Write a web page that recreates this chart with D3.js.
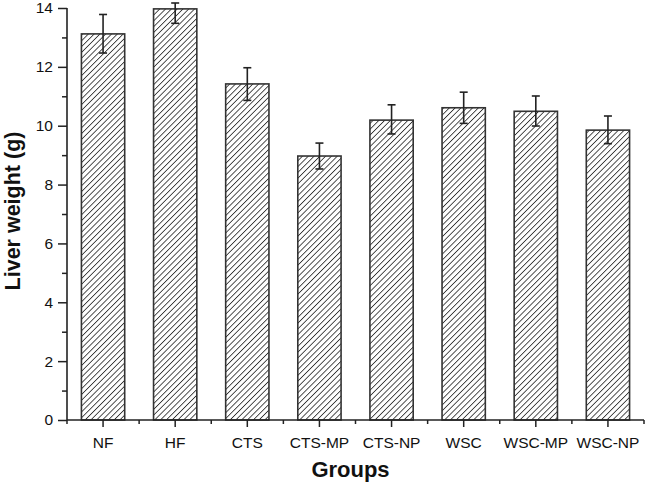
<!DOCTYPE html>
<html>
<head>
<meta charset="utf-8">
<script src="https://cdn.jsdelivr.net/npm/d3@7"></script>
<style>
  html, body { margin: 0; padding: 0; background: #fff; }
  svg { display: block; }
  text { font-family: "Liberation Sans", Arial, sans-serif; fill: #111; }
</style>
</head>
<body>
<svg id="chart" width="645" height="482"></svg>
<script>
const categories = ["NF", "HF", "CTS", "CTS-MP", "CTS-NP", "WSC", "WSC-MP", "WSC-NP"];
const values     = [13.12, 13.97, 11.42, 8.97, 10.19, 10.61, 10.49, 9.85];
const errUpper   = [0.66, 0.20, 0.55, 0.44, 0.52, 0.53, 0.52, 0.48];
const errLower   = [0.65, 0.49, 0.56, 0.44, 0.47, 0.53, 0.50, 0.46];
const yTicks     = [0, 2, 4, 6, 8, 10, 12, 14];
const yMinorTicks = [1, 3, 5, 7, 9, 11, 13];

(function () {
const svg = d3.select("#chart");
const mLeft = 67, mRight = 644, mTop = 8, mBottom = 420;

const x = d3.scaleBand().domain(categories).range([mLeft, mRight]).paddingInner(0.4).paddingOuter(0.2);
const y = d3.scaleLinear().domain([0, 14]).range([mBottom, mTop]);

// hatch pattern
const hs = 4.1;
const defs = svg.append("defs");
const pat = defs.append("pattern")
  .attr("id", "hatch").attr("patternUnits", "userSpaceOnUse")
  .attr("width", hs).attr("height", hs)
  .attr("patternTransform", "rotate(45)");
pat.append("rect").attr("width", hs).attr("height", hs).attr("fill", "#fff");
pat.append("line").attr("x1", 0).attr("y1", 0).attr("x2", 0).attr("y2", hs)
  .attr("stroke", "#333").attr("stroke-width", 1.7);

const data = categories.map((c, i) => ({c, v: values[i], up: errUpper[i], lo: errLower[i]}));

// bars
svg.append("g").selectAll("rect").data(data).join("rect")
  .attr("x", d => x(d.c))
  .attr("y", d => y(d.v))
  .attr("width", x.bandwidth())
  .attr("height", d => y(0) - y(d.v))
  .attr("fill", "url(#hatch)")
  .attr("stroke", "#333")
  .attr("stroke-width", 1.6);

// error bars
const eg = svg.append("g").attr("stroke", "#222").attr("stroke-width", 1.6);
const capW = 8;
data.forEach(d => {
  const cx = x(d.c) + x.bandwidth() / 2;
  const yt = y(d.v + d.up), yb = y(d.v - d.lo);
  eg.append("line").attr("x1", cx).attr("x2", cx).attr("y1", yt).attr("y2", yb);
  eg.append("line").attr("x1", cx - capW / 2).attr("x2", cx + capW / 2).attr("y1", yt).attr("y2", yt);
  eg.append("line").attr("x1", cx - capW / 2).attr("x2", cx + capW / 2).attr("y1", yb).attr("y2", yb);
});

// y axis
const yAxis = svg.append("g").attr("transform", `translate(${mLeft},0)`)
  .call(d3.axisLeft(y).tickValues(yTicks).tickSize(9).tickPadding(5).tickFormat(d3.format("d")));
yAxis.select(".domain").attr("stroke", "#222").attr("stroke-width", 1.6).attr("d", `M0,${mBottom}V${mTop}`);
yAxis.selectAll(".tick line").attr("stroke", "#222").attr("stroke-width", 1.5);
yAxis.selectAll(".tick text").style("font-size", "15.5px").style("font-family", '"Liberation Sans", Arial, sans-serif').attr("fill", "#111");
const yMinor = svg.append("g").attr("transform", `translate(${mLeft},0)`)
  .call(d3.axisLeft(y).tickValues(yMinorTicks).tickSize(5).tickFormat(""));
yMinor.select(".domain").remove();
yMinor.selectAll(".tick line").attr("stroke", "#222").attr("stroke-width", 1.5);

// x axis
const xAxis = svg.append("g").attr("transform", `translate(0,${mBottom})`)
  .call(d3.axisBottom(x).tickSize(7).tickPadding(10));
xAxis.select(".domain").attr("stroke", "#222").attr("stroke-width", 1.6).attr("d", `M${mLeft},0H${mRight}`);
xAxis.selectAll(".tick line").attr("stroke", "#222").attr("stroke-width", 1.5);
xAxis.selectAll(".tick text").style("font-size", "15.5px").style("font-family", '"Liberation Sans", Arial, sans-serif').attr("fill", "#111");
// minor x ticks at band boundaries
const boundaries = categories.map(c => x(c) + x.bandwidth() / 2 - x.step() / 2);
boundaries.push(x(categories[categories.length - 1]) + x.bandwidth() / 2 + x.step() / 2);
svg.append("g").selectAll("line").data(boundaries).join("line")
  .attr("x1", d => d).attr("x2", d => d)
  .attr("y1", mBottom).attr("y2", mBottom + 4)
  .attr("stroke", "#222").attr("stroke-width", 1.5);

// axis titles
svg.append("text")
  .attr("transform", `translate(20,211) rotate(-90)`)
  .attr("text-anchor", "middle")
  .style("font-size", "21.5px").style("font-weight", "bold")
  .text("Liver weight (g)");
svg.append("text")
  .attr("x", (mLeft + mRight) / 2 - 5).attr("y", 477)
  .attr("text-anchor", "middle")
  .style("font-size", "22px").style("font-weight", "bold")
  .text("Groups");
})();
</script>
</body>
</html>
